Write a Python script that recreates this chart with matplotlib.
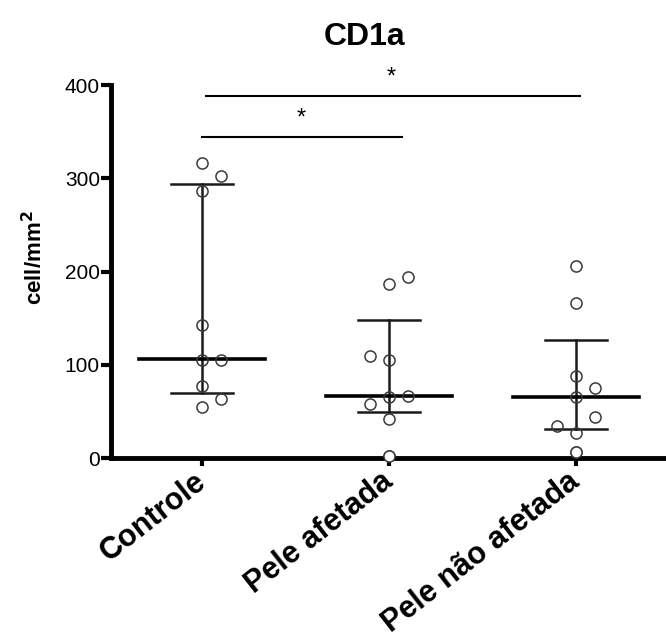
import matplotlib

matplotlib.use('Agg')
import matplotlib.pyplot as plt
from matplotlib.transforms import ScaledTranslation

plt.rcParams['font.family'] = ['Liberation Sans', 'DejaVu Sans']

# groups and values
groups = ['Controle', 'Pele afetada', 'Pele não afetada']
controle = [316, 302, 286, 143, 105, 105, 77, 63, 55]
pele_afetada = [194, 187, 109, 105, 66, 65, 58, 42, 2]
pele_nao_afetada = [206, 166, 88, 75, 65, 44, 34, 27, 6]
medians = [106, 66, 65]
lower = [70, 49, 31]
upper = [294, 148, 127]
y_ticks = [0, 100, 200, 300, 400]

# dot spread within each column (in category units)
spread = [
    [0, 0.1, 0, 0, 0, 0.1, 0, 0.1, 0],
    [0.1, 0, -0.1, 0, 0.1, 0, -0.1, 0, 0],
    [0, 0, 0, 0.1, 0, 0.1, -0.1, 0, 0],
]

fig = plt.figure(figsize=(6.66, 6.32), dpi=100)
ax = fig.add_axes([0.1667, 0.2753, 0.8333, 0.5902])

all_vals = [controle, pele_afetada, pele_nao_afetada]
for i, vals in enumerate(all_vals):
    xs = [i + d for d in spread[i]]
    # error bar + caps
    ax.plot([i, i], [lower[i], upper[i]], color='#1a1a1a', lw=1.8, zorder=2)
    ax.plot([i - 0.166, i + 0.166], [lower[i]] * 2, color='#1a1a1a', lw=1.8, zorder=2)
    ax.plot([i - 0.166, i + 0.166], [upper[i]] * 2, color='#1a1a1a', lw=1.8, zorder=2)
    ax.plot([i - 0.337, i + 0.337], [medians[i]] * 2, color='black', lw=2.6, zorder=2)
    ax.plot(xs, vals, linestyle='none', marker='o', markersize=8,
            markerfacecolor='none', markeredgecolor='#3a3a3a', markeredgewidth=1.1,
            zorder=3)
    # points near zero drawn on top of the axis
    for x, v in zip(xs, vals):
        if v < 10:
            ax.plot([x], [v], marker='o', markersize=8, markerfacecolor='white',
                    markeredgecolor='#3a3a3a', markeredgewidth=1.1,
                    clip_on=False, zorder=5)

# significance bars
ax.plot([0.0, 1.07], [344, 344], color='black', lw=1.5, clip_on=False)
ax.text(0.53, 352, '*', ha='center', va='bottom', fontsize=17)
ax.plot([0.02, 2.02], [388, 388], color='black', lw=1.5, clip_on=False)
ax.text(1.01, 396, '*', ha='center', va='bottom', fontsize=17)

ax.set_xlim(-0.487, 2.481)
ax.set_ylim(0, 400)
ax.spines['top'].set_visible(False)
ax.spines['right'].set_visible(False)
ax.spines['left'].set_linewidth(3.5)
ax.spines['bottom'].set_linewidth(3.5)
ax.spines['bottom'].set_zorder(4)

ax.set_yticks(y_ticks)
ax.set_yticklabels([str(t) for t in y_ticks])
ax.tick_params(axis='y', length=7, width=3, pad=1, labelsize=15)
ax.set_xticks(range(len(groups)))
ax.set_xticklabels(groups, rotation=38, ha='right', va='top',
                   rotation_mode='anchor', fontsize=22, fontweight='bold')
ax.tick_params(axis='x', length=6, width=3, pad=5)
shift = ScaledTranslation(-9 / 100, 7 / 100, fig.dpi_scale_trans)
for lab in ax.get_xticklabels():
    lab.set_transform(lab.get_transform() + shift)

ax.set_ylabel('cell/mm$^\\mathbf{2}$', fontsize=16, fontweight='bold')
ax.yaxis.set_label_coords(-0.115, 0.5375)

fig.text(0.548, 1 - 37 / 632, 'CD1a', ha='center', va='center',
         fontsize=23, fontweight='bold')

fig.savefig('out.png', dpi=100)
